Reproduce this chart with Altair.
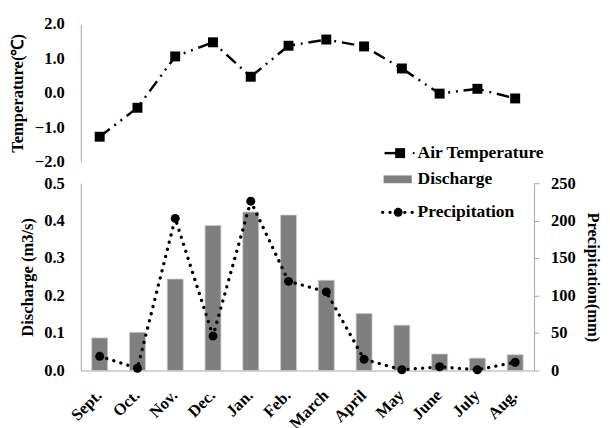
import altair as alt
import pandas as pd

months = ["Sept.", "Oct.", "Nov.", "Dec.", "Jan.", "Feb.", "March", "April", "May", "June", "July", "Aug."]
temperature = [-1.27, -0.43, 1.06, 1.47, 0.47, 1.37, 1.55, 1.35, 0.71, -0.02, 0.12, -0.16]
discharge = [0.087, 0.102, 0.244, 0.387, 0.423, 0.415, 0.241, 0.152, 0.121, 0.044, 0.033, 0.042]
precipitation = [19, 3, 203, 46, 226, 119, 105, 15, 1, 5, 1, 11]

legend_labels = ["Air Temperature", "Discharge", "Precipitation"]

df = pd.DataFrame({"month": months, "temp": temperature, "dis": discharge, "pre": precipitation})

FONT = "Liberation Serif"
FS = 17
W, H = 467, 357
TOP_RANGE = [142, 0]
BOT_RANGE = [H, 164]

xsc = alt.Scale(domain=months, paddingInner=0.58, paddingOuter=0.29)
X = alt.X("month:N", sort=months, scale=xsc,
          axis=alt.Axis(title=None, labelAngle=-45, ticks=False, labelPadding=17,
                        labelOffset=-6))

tscale = alt.Scale(domain=[-2, 2], range=TOP_RANGE)
taxis = alt.Axis(orient="left", values=[-2, -1, 0, 1, 2], format=".1f",
                 title="Temperature(℃)", ticks=False, labelPadding=17,
                 titlePadding=8, labelOverlap=False)
top_line = alt.Chart(df).mark_line(
    color="black", strokeWidth=2.5, strokeDash=[13, 6, 2, 6, 2, 6]
).encode(x=X, y=alt.Y("temp:Q", scale=tscale, axis=taxis))
top_pts = alt.Chart(df).mark_square(color="black", size=105, opacity=1).encode(
    x=X, y=alt.Y("temp:Q", scale=tscale, axis=taxis))
temp_layer = alt.layer(top_line, top_pts)

bars = alt.Chart(df).mark_bar(color="#7f7f7f", stroke="#c8c8c8", strokeWidth=0.8).encode(
    x=X,
    y=alt.Y("dis:Q", scale=alt.Scale(domain=[0, 0.5], range=BOT_RANGE),
            axis=alt.Axis(orient="left", values=[0, 0.1, 0.2, 0.3, 0.4, 0.5], format=".1f",
                          title="Discharge (m3/s)", ticks=False, labelPadding=17,
                          titlePadding=8, labelOverlap=False)),
)

pscale = alt.Scale(domain=[0, 250], range=BOT_RANGE)
paxis = alt.Axis(orient="right", values=[0, 50, 100, 150, 200, 250],
                 title="Precipitation(mm)", ticks=True, tickSize=5,
                 tickColor="#a6a6a6", labelPadding=12, titlePadding=9,
                 titleAngle=90, labelOverlap=False)
pre_line = alt.Chart(df).mark_line(
    color="black", strokeWidth=3.4, strokeDash=[0.1, 7.5], strokeCap="round"
).encode(x=X, y=alt.Y("pre:Q", scale=pscale, axis=paxis))
pre_pts = alt.Chart(df).mark_circle(color="black", size=85, opacity=1).encode(
    x=X, y=alt.Y("pre:Q", scale=pscale, axis=paxis))
pre_layer = alt.layer(pre_line, pre_pts)

# hand-drawn legend (positions in plot pixels)
leg = pd.DataFrame({"label": legend_labels})
DX = 8
LX = 339 + DX
LY = [133, 160, 194]


def leg_text(i):
    return alt.Chart(leg.iloc[[i]]).mark_text(
        align="left", baseline="middle", font=FONT, fontWeight="bold", fontSize=18,
        color="black"
    ).encode(text="label:N", x=alt.value(LX), y=alt.value(LY[i]))


one = leg.iloc[[0]]
leg_t_line = alt.Chart(one).mark_rule(color="black", strokeWidth=2.5).encode(
    x=alt.value(305 + DX), x2=alt.value(318 + DX), y=alt.value(LY[0]))
leg_t_sq = alt.Chart(one).mark_square(color="black", size=105, opacity=1).encode(
    x=alt.value(321 + DX), y=alt.value(LY[0]))
leg_t_dot = alt.Chart(one).mark_circle(color="black", size=5, opacity=1).encode(
    x=alt.value(335 + DX), y=alt.value(LY[0]))
leg_d_rect = alt.Chart(one).mark_rule(color="#7f7f7f", strokeWidth=8).encode(
    x=alt.value(304 + DX), x2=alt.value(333 + DX), y=alt.value(LY[1]))
leg_p_line = alt.Chart(one).mark_rule(
    color="black", strokeWidth=3.4, strokeDash=[0.1, 7.5], strokeCap="round").encode(
    x=alt.value(303 + DX), x2=alt.value(336 + DX), y=alt.value(LY[2]))
leg_p_pt = alt.Chart(one).mark_circle(color="black", size=85, opacity=1).encode(
    x=alt.value(319 + DX), y=alt.value(LY[2]))

chart = alt.layer(
    temp_layer, bars, pre_layer,
    leg_d_rect, leg_t_line, leg_t_sq, leg_t_dot, leg_p_line, leg_p_pt,
    leg_text(0), leg_text(1), leg_text(2),
).resolve_scale(y="independent").properties(
    width=W, height=H,
    padding={"left": 1, "top": 1, "right": 0, "bottom": 0},
).configure_view(stroke=None).configure_axis(
    grid=False,
    labelFont=FONT, labelFontWeight="bold", labelFontSize=FS, labelColor="black",
    titleFont=FONT, titleFontWeight="bold", titleFontSize=FS, titleColor="black",
    domainColor="#a6a6a6", domainWidth=1,
)

chart.save("out.html", embed_options={"renderer": "svg", "actions": False})
